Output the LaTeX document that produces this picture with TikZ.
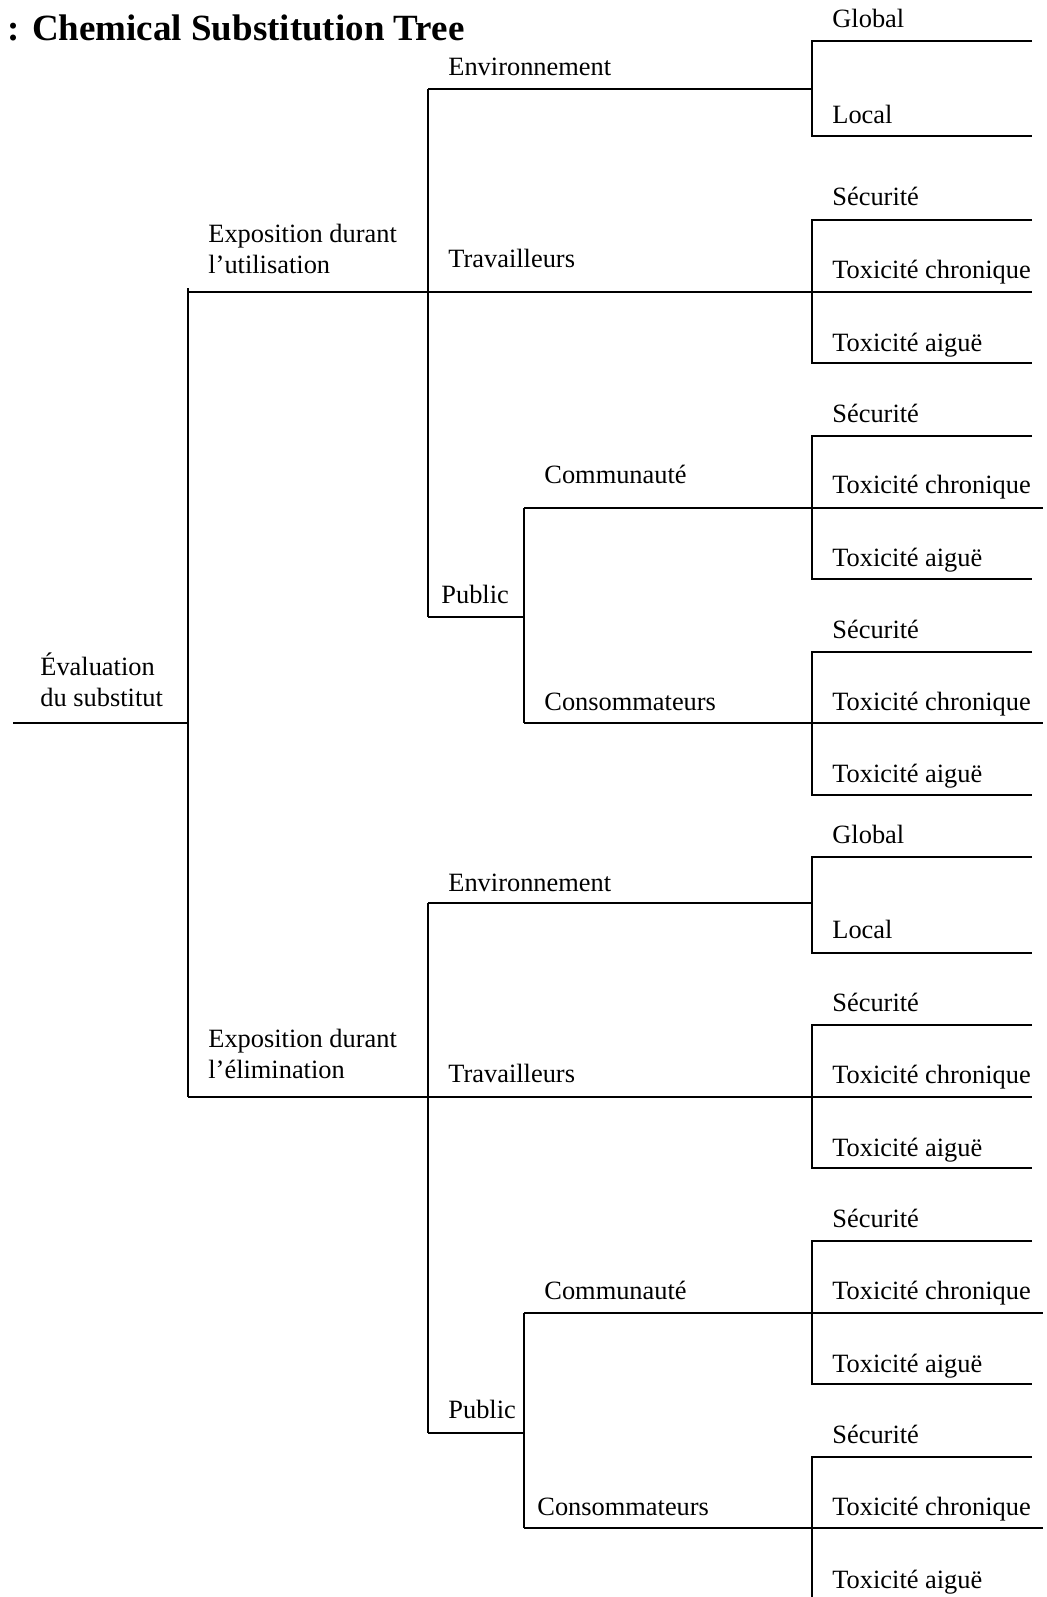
\documentclass[tikz,border=0pt]{standalone}
\usepackage{fontspec}
\setmainfont{Liberation Serif}

\tikzset{
    tree/.style={line width=0.65pt},
    lbl/.style={anchor=base west, inner sep=0pt, font=\fontsize{13.2}{15.5}\selectfont},
    lbltwo/.style={lbl, align=left},
    titlelbl/.style={anchor=base west, inner sep=0pt, font=\fontsize{18.5}{22}\selectfont\bfseries}
}

\begin{document}
\begin{tikzpicture}[x=0.5pt, y=-0.5pt]
    \useasboundingbox (0, 0) rectangle (1046, 1597);
    \clip (0, 0) rectangle (1046, 1597);

    % right ends of the leaf lines
    \coordinate (edge) at (1032, 0);
    \coordinate (edgeb) at (1043, 0);

    % root
    \coordinate (rootin) at (13, 723);
    \coordinate (rootj) at (188, 723);
    \coordinate (roott) at (188, 288);
    \coordinate (uj) at (188, 292);
    \coordinate (lj) at (188, 1097);

    % upper half: utilisation
    \coordinate (uEnv) at (428, 89);
    \coordinate (uTrav) at (428, 292);
    \coordinate (uPub) at (428, 617);
    \coordinate (uEnvj) at (812, 89);
    \coordinate (uGlob) at (812, 41);
    \coordinate (uLoc) at (812, 136);
    \coordinate (uTravj) at (812, 292);
    \coordinate (uTS) at (812, 220);
    \coordinate (uTA) at (812, 363);
    \coordinate (uComm) at (524, 508);
    \coordinate (uPubj) at (524, 617);
    \coordinate (uCons) at (524, 723);
    \coordinate (uCommj) at (812, 508);
    \coordinate (uCS) at (812, 436);
    \coordinate (uCA) at (812, 579);
    \coordinate (uConsj) at (812, 723);
    \coordinate (uCoS) at (812, 652);
    \coordinate (uCoA) at (812, 795);

    % lower half: elimination
    \coordinate (lEnv) at (428, 903);
    \coordinate (lTrav) at (428, 1097);
    \coordinate (lPub) at (428, 1433);
    \coordinate (lEnvj) at (812, 903);
    \coordinate (lGlob) at (812, 857);
    \coordinate (lLoc) at (812, 953);
    \coordinate (lTravj) at (812, 1097);
    \coordinate (lTS) at (812, 1025);
    \coordinate (lTA) at (812, 1168);
    \coordinate (lComm) at (524, 1313);
    \coordinate (lPubj) at (524, 1433);
    \coordinate (lCons) at (524, 1528);
    \coordinate (lCommj) at (812, 1313);
    \coordinate (lCS) at (812, 1241);
    \coordinate (lCA) at (812, 1384);
    \coordinate (lConsj) at (812, 1528);
    \coordinate (lCoS) at (812, 1457);
    \coordinate (lCoA) at (812, 1601);

    % branches
    \draw[tree] (rootin) -- (rootj);
    \draw[tree] (roott) -- (lj);

    \draw[tree] (uj) -- (uTrav) -- (uTravj) -- (uTravj -| edge);
    \draw[tree] (uEnv) -- (uPub);
    \draw[tree] (uEnv) -- (uEnvj);
    \draw[tree] (uGlob -| edge) -- (uGlob) -- (uLoc) -- (uLoc -| edge);
    \draw[tree] (uTS -| edge) -- (uTS) -- (uTA) -- (uTA -| edge);
    \draw[tree] (uPub) -- (uPubj);
    \draw[tree] (uComm) -- (uCons);
    \draw[tree] (uComm) -- (uCommj) -- (uCommj -| edgeb);
    \draw[tree] (uCS -| edge) -- (uCS) -- (uCA) -- (uCA -| edge);
    \draw[tree] (uCons) -- (uConsj) -- (uConsj -| edgeb);
    \draw[tree] (uCoS -| edge) -- (uCoS) -- (uCoA) -- (uCoA -| edge);

    \draw[tree] (lj) -- (lTrav) -- (lTravj) -- (lTravj -| edge);
    \draw[tree] (lEnv) -- (lPub);
    \draw[tree] (lEnv) -- (lEnvj);
    \draw[tree] (lGlob -| edge) -- (lGlob) -- (lLoc) -- (lLoc -| edge);
    \draw[tree] (lTS -| edge) -- (lTS) -- (lTA) -- (lTA -| edge);
    \draw[tree] (lPub) -- (lPubj);
    \draw[tree] (lComm) -- (lCons);
    \draw[tree] (lComm) -- (lCommj) -- (lCommj -| edgeb);
    \draw[tree] (lCS -| edge) -- (lCS) -- (lCA) -- (lCA -| edge);
    \draw[tree] (lCons) -- (lConsj) -- (lConsj -| edgeb);
    \draw[tree] (lCoS -| edge) -- (lCoS) -- (lCoA) -- (lCoA -| edge);

    % labels (two-line labels sit on their last baseline)
    \node[titlelbl] (title) at (7, 40) {: Chemical Substitution Tree};
    \node[lbltwo] (eval) at (40, 706) {Évaluation\\du substitut};

    \node[lbltwo] (uExpo) at (208, 273) {Exposition durant\\l’utilisation};
    \node[lbl] (uEnvL) at (448, 75) {Environnement};
    \node[lbl] (uTravL) at (448, 267) {Travailleurs};
    \node[lbl] (uPubL) at (441, 603) {Public};
    \node[lbl] (uCommL) at (544, 483) {Communauté};
    \node[lbl] (uConsL) at (544, 710) {Consommateurs};
    \node[lbl] (uGlobL) at (832, 27) {Global};
    \node[lbl] (uLocL) at (832, 123) {Local};
    \node[lbl] (uTSL) at (832, 205) {Sécurité};
    \node[lbl] (uTCL) at (832, 278) {Toxicité chronique};
    \node[lbl] (uTAL) at (832, 351) {Toxicité aiguë};
    \node[lbl] (uCSL) at (832, 422) {Sécurité};
    \node[lbl] (uCCL) at (832, 493) {Toxicité chronique};
    \node[lbl] (uCAL) at (832, 566) {Toxicité aiguë};
    \node[lbl] (uCoSL) at (832, 638) {Sécurité};
    \node[lbl] (uCoCL) at (832, 710) {Toxicité chronique};
    \node[lbl] (uCoAL) at (832, 782) {Toxicité aiguë};

    \node[lbltwo] (lExpo) at (208, 1078) {Exposition durant\\l’élimination};
    \node[lbl] (lEnvL) at (448, 891) {Environnement};
    \node[lbl] (lTravL) at (448, 1082) {Travailleurs};
    \node[lbl] (lPubL) at (448, 1418) {Public};
    \node[lbl] (lCommL) at (544, 1299) {Communauté};
    \node[lbl] (lConsL) at (537, 1515) {Consommateurs};
    \node[lbl] (lGlobL) at (832, 843) {Global};
    \node[lbl] (lLocL) at (832, 938) {Local};
    \node[lbl] (lTSL) at (832, 1011) {Sécurité};
    \node[lbl] (lTCL) at (832, 1083) {Toxicité chronique};
    \node[lbl] (lTAL) at (832, 1156) {Toxicité aiguë};
    \node[lbl] (lCSL) at (832, 1227) {Sécurité};
    \node[lbl] (lCCL) at (832, 1299) {Toxicité chronique};
    \node[lbl] (lCAL) at (832, 1372) {Toxicité aiguë};
    \node[lbl] (lCoSL) at (832, 1443) {Sécurité};
    \node[lbl] (lCoCL) at (832, 1515) {Toxicité chronique};
    \node[lbl] (lCoAL) at (832, 1588) {Toxicité aiguë};
\end{tikzpicture}
\end{document}
